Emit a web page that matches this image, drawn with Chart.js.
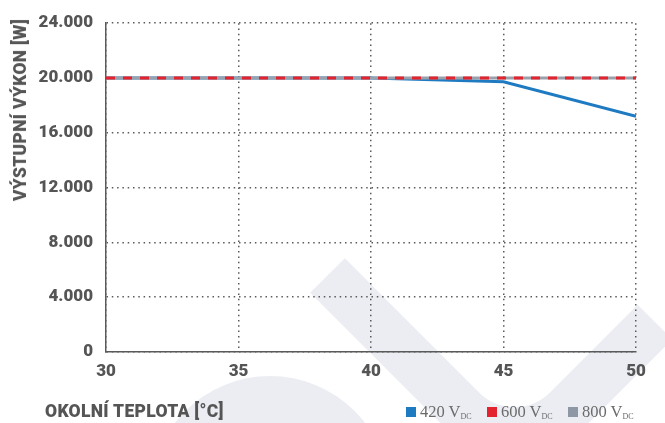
<!DOCTYPE html>
<html>
<head>
<meta charset="utf-8">
<script src="https://cdn.jsdelivr.net/npm/chart.js@4.4.0/dist/chart.umd.min.js"></script>
<style>
  body { margin: 0; background: #fff; }
  #wrap { position: relative; width: 665px; height: 423px; overflow: hidden; }
  #chart { position: absolute; left: 0; top: 0; }
  .title { position: absolute; font-family: Roboto, "DejaVu Sans Condensed", sans-serif; font-weight: 900; color: #555; font-size: 17.5px; white-space: nowrap; letter-spacing: 0.3px; }
  #ytitle { left: 20px; top: 110px; transform: translate(-50%, -50%) rotate(-90deg); }
  #xtitle { left: 45px; top: 401px; }
  #legend { position: absolute; left: 406px; top: 402px; font-family: "Liberation Serif", "DejaVu Serif", serif; font-size: 16.5px; color: #6b6b6b; white-space: nowrap; }
  #legend span.item { display: inline-block; width: 81px; }
  #legend i { display: inline-block; width: 10px; height: 10px; margin-right: 4px; }
  #legend sub { font-size: 8px; vertical-align: -2px; }
</style>
</head>
<body>
<div id="wrap">
  <canvas id="chart" width="665" height="423"></canvas>
  <div class="title" id="ytitle">VÝSTUPNÍ VÝKON [W]</div>
  <div class="title" id="xtitle">OKOLNÍ TEPLOTA [°C]</div>
  <div id="legend"></div>
</div>
<script>
const temps = [30, 35, 40, 45, 50];
const power420 = [20000, 20000, 20000, 19730, 17200];
const power600 = [20000, 20000, 20000, 20000, 20000];
const power800 = [20000, 20000, 20000, 20000, 20000];
const seriesNames = ['420 V', '600 V', '800 V'];
const seriesColors = ['#1f7bc1', '#e3232d', '#8e98a4'];

// legend with DC subscript
document.getElementById('legend').innerHTML = seriesNames.map((n, i) =>
  `<span class="item"><i style="background:${seriesColors[i]}"></i>${n}<sub>DC</sub></span>`
).join('');

const toPoints = arr => arr.map((v, i) => ({ x: temps[i], y: v }));
const fmt = v => String(v).replace(/\B(?=(\d{3})+(?!\d))/g, '.');

// light watermark behind the plot
const watermark = {
  id: 'watermark',
  beforeDraw(chart) {
    const c = chart.ctx;
    c.save();
    c.fillStyle = '#ebedf2';
    c.strokeStyle = '#ebedf2';
    c.beginPath();
    c.arc(270, 496, 120, 0, Math.PI * 2);
    c.fill();
    c.lineWidth = 49;
    c.lineCap = 'butt';
    c.beginPath();
    c.moveTo(327.5, 275.5);
    c.arcTo(514.5, 462.5, 655, 322, 75);
    c.lineTo(655, 322);
    c.stroke();
    c.restore();
  }
};

const gridStyle = { color: '#5a5a5a', lineWidth: 1.5, drawTicks: false };
const tickFont = { family: 'Roboto, "DejaVu Sans Condensed", sans-serif', size: 17, weight: 900 };

new Chart(document.getElementById('chart'), {
  type: 'line',
  data: {
    datasets: [
      { label: seriesNames[1], data: toPoints(power600), borderColor: seriesColors[1], borderWidth: 3, borderDash: [9, 8], pointRadius: 0, order: 1 },
      { label: seriesNames[2], data: toPoints(power800), borderColor: '#9aa1ab', borderWidth: 3, pointRadius: 0, order: 2 },
      { label: seriesNames[0], data: toPoints(power420), borderColor: seriesColors[0], borderWidth: 3, pointRadius: 0, order: 3 }
    ]
  },
  options: {
    responsive: false,
    animation: false,
    layout: { padding: { top: 22, right: 29, left: 0, bottom: 0 } },
    plugins: { legend: { display: false }, tooltip: { enabled: false } },
    scales: {
      x: {
        type: 'linear', min: 30, max: 50,
        ticks: { stepSize: 5, color: '#555', font: tickFont, padding: 10 },
        grid: { ...gridStyle },
        border: { color: '#5a5a5a', width: 1.5, dash: [1.5, 3.8] },
        afterFit(s) { s.height = 71; }
      },
      y: {
        min: 0, max: 24000,
        ticks: { stepSize: 4000, color: '#555', font: tickFont, padding: 13, callback: v => fmt(v) },
        grid: { ...gridStyle },
        border: { color: '#5a5a5a', width: 1.5, dash: [1.5, 3.8] },
        afterFit(s) { s.width = 106; }
      }
    }
  },
  plugins: [watermark]
});
</script>
</body>
</html>
